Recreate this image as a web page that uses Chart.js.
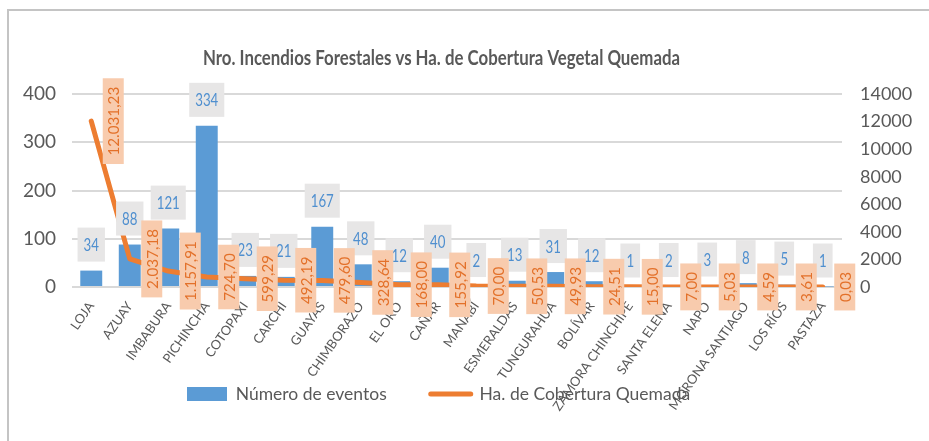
<!DOCTYPE html>
<html><head><meta charset="utf-8">
<script src="https://cdn.jsdelivr.net/npm/chart.js@4.4.1/dist/chart.umd.min.js"></script>
<style>
html,body{margin:0;padding:0;background:#fff;overflow:hidden;}
#wrap{position:relative;width:929px;height:441px;overflow:hidden;}
#frame{position:absolute;left:7px;top:9px;width:1000px;height:1000px;border-left:2px solid #c4c4c4;border-top:2px solid #c4c4c4;}
canvas{position:absolute;left:0;top:0;}
</style></head><body>
<div id="wrap"><div id="frame"></div><canvas id="c" width="929" height="441"></canvas></div>
<script>
const titulo = 'Nro. Incendios Forestales vs Ha. de Cobertura Vegetal Quemada';
const provincias = ['LOJA','AZUAY','IMBABURA','PICHINCHA','COTOPAXI','CARCHI','GUAYAS','CHIMBORAZO','EL ORO','CAÑAR','MANABÍ','ESMERALDAS','TUNGURAHUA','BOLÍVAR','ZAMORA CHINCHIPE','SANTA ELENA','NAPO','MORONA SANTIAGO','LOS RÍOS','PASTAZA'];
// bar heights as drawn in the picture
const eventos = [34, 88, 121, 334, 23, 21, 125, 47, 12, 40, 2, 13, 31, 12, 1, 2, 3, 8, 5, 1];
// data-label texts as printed in the picture
const etiquetasEventos = ['34','88','121','334','23','21','167','48','12','40','2','13','31','12','1','2','3','8','5','1'];
const hectareas = [12031.23, 2037.18, 1157.91, 724.70, 599.29, 492.19, 479.60, 328.64, 168.00, 155.92, 70.00, 50.53, 49.93, 24.51, 15.00, 7.00, 5.03, 4.59, 3.61, 0.03];
const serieBarras = 'Número de eventos';
const serieLinea = 'Ha. de Cobertura Quemada';

const BLUE = '#5B9BD5', ORANGE = '#ED7D31', TXT = '#595959';

function fmt(v){
  const parts = v.toFixed(2).split('.');
  return parts[0].replace(/\B(?=(\d{3})+(?!\d))/g, '.') + ',' + parts[1];
}

const labelsPlugin = {
  id: 'labelsPlugin',
  afterDatasetsDraw(chart){
    const ctx = chart.ctx;
    const barMeta = chart.getDatasetMeta(0);
    const lineMeta = chart.getDatasetMeta(1);
    ctx.save();
    ctx.textAlign = 'center';
    ctx.textBaseline = 'middle';
    barMeta.data.forEach((el, i) => {
      const txt = etiquetasEventos[i];
      ctx.font = '17px Lato';
      const sx = 0.78;
      const tw = ctx.measureText(txt).width * sx;
      const w = tw + 12, h = 34;
      const bottom = el.y - 9;
      ctx.fillStyle = '#E7E6E6';
      ctx.fillRect(el.x - w/2, bottom - h, w, h);
      ctx.fillStyle = '#4F8FCF';
      ctx.save();
      ctx.translate(el.x, bottom - h/2 + 1);
      ctx.scale(sx, 1);
      ctx.fillText(txt, 0, 0);
      ctx.restore();
    });
    lineMeta.data.forEach((pt, i) => {
      const txt = fmt(hectareas[i]);
      ctx.font = '16px Lato';
      const sx = 0.95;
      const tl = ctx.measureText(txt).width * sx;
      const len = tl + 17, wid = 21;
      const cx = pt.x + 22, cy = pt.y;
      ctx.fillStyle = '#F8CBAD';
      ctx.fillRect(cx - wid/2, cy - len/2, wid, len);
      ctx.fillStyle = '#E3712A';
      ctx.save();
      ctx.translate(cx + 1, cy);
      ctx.rotate(-Math.PI/2);
      ctx.scale(sx, 1);
      ctx.fillText(txt, 0, 0);
      ctx.restore();
    });
    ctx.restore();
  }
};

const titlePlugin = {
  id: 'titlePlugin',
  afterDraw(chart){
    const ctx = chart.ctx;
    ctx.save();
    ctx.font = 'bold 21px Lato';
    const target = 477;
    const w = ctx.measureText(titulo).width;
    const sx = target / w;
    ctx.fillStyle = TXT;
    ctx.textAlign = 'center';
    ctx.textBaseline = 'middle';
    ctx.translate(441.5, 58);
    ctx.scale(sx, 1);
    ctx.fillText(titulo, 0, 0);
    ctx.restore();
  }
};

const shiftPlugin = {
  id: 'shiftPlugin',
  afterLayout(chart){
    const lg = chart.legend;
    if (lg && lg.lineWidths) {
      const pad = lg.options.labels.padding;
      const start = ((lg.left + pad) + (lg.right - lg.lineWidths[0])) / 2;
      const shift = 187 - start;
      lg.left += shift; lg.right += shift;
      const fs = lg.options.labels.font.size;
      const newTop = 394 - pad - fs / 2;
      const dy = newTop - lg.top;
      lg.top += dy; lg.bottom += dy;
    }
    // let the rotated category labels extend below the axis box (no clipping)
    if (chart.scales.x) chart.scales.x.bottom = chart.height;
  }
};

new Chart(document.getElementById('c'), {
  data: {
    labels: provincias,
    datasets: [
      { type: 'bar', label: serieBarras, data: eventos, backgroundColor: BLUE, borderWidth: 0,
        yAxisID: 'y', order: 1, categoryPercentage: 1, barPercentage: 0.57 },
      { type: 'line', label: serieLinea, data: hectareas, borderColor: ORANGE, backgroundColor: ORANGE,
        borderWidth: 5, pointRadius: 0, pointHoverRadius: 0, tension: 0, borderCapStyle: 'round', borderJoinStyle: 'round',
        yAxisID: 'y1', order: 0 }
    ]
  },
  options: {
    responsive: false,
    animation: false,
    layout: { padding: { left: 0, right: 0, top: 94, bottom: 28 } },
    plugins: {
      title: { display: false },
      tooltip: { enabled: false },
      legend: {
        position: 'bottom',
        labels: {
          color: TXT,
          font: { family: 'Lato', size: 17.5 },
          usePointStyle: true,
          pointStyleWidth: 40,
          boxHeight: 14,
          padding: 44,
          sort: (a, b) => a.datasetIndex - b.datasetIndex,
          generateLabels: (chart) => {
            const items = Chart.defaults.plugins.legend.labels.generateLabels(chart);
            items.forEach(it => {
              if (it.datasetIndex === 0) {
                it.pointStyle = 'rect'; it.fillStyle = BLUE; it.strokeStyle = BLUE; it.lineWidth = 0;
              } else {
                it.pointStyle = 'line'; it.fillStyle = ORANGE; it.strokeStyle = ORANGE; it.lineWidth = 5; it.lineCap = 'round';
              }
            });
            return items;
          }
        }
      }
    },
    scales: {
      x: {
        grid: { display: false, drawTicks: false },
        border: { display: false },
        ticks: { color: TXT, font: { family: 'Lato', size: 13 }, minRotation: 55, maxRotation: 55, autoSkip: false, padding: 12 },
        afterFit: (s) => { s.height = 54.5; }
      },
      y: {
        position: 'left', min: 0, max: 400,
        ticks: { stepSize: 100, color: TXT, font: { family: 'Lato', size: 19 }, padding: 16 },
        grid: { color: '#D9D9D9', lineWidth: 2, drawTicks: false },
        border: { display: false },
        afterFit: (s) => { s.width = 72; }
      },
      y1: {
        position: 'right', min: 0, max: 14000,
        ticks: { stepSize: 2000, color: TXT, font: { family: 'Lato', size: 18 }, padding: 18, callback: (v) => String(v) },
        grid: { drawOnChartArea: false, drawTicks: false },
        border: { display: false },
        afterFit: (s) => { s.width = 87; }
      }
    }
  },
  plugins: [labelsPlugin, titlePlugin, shiftPlugin]
});
</script>
</body></html>
